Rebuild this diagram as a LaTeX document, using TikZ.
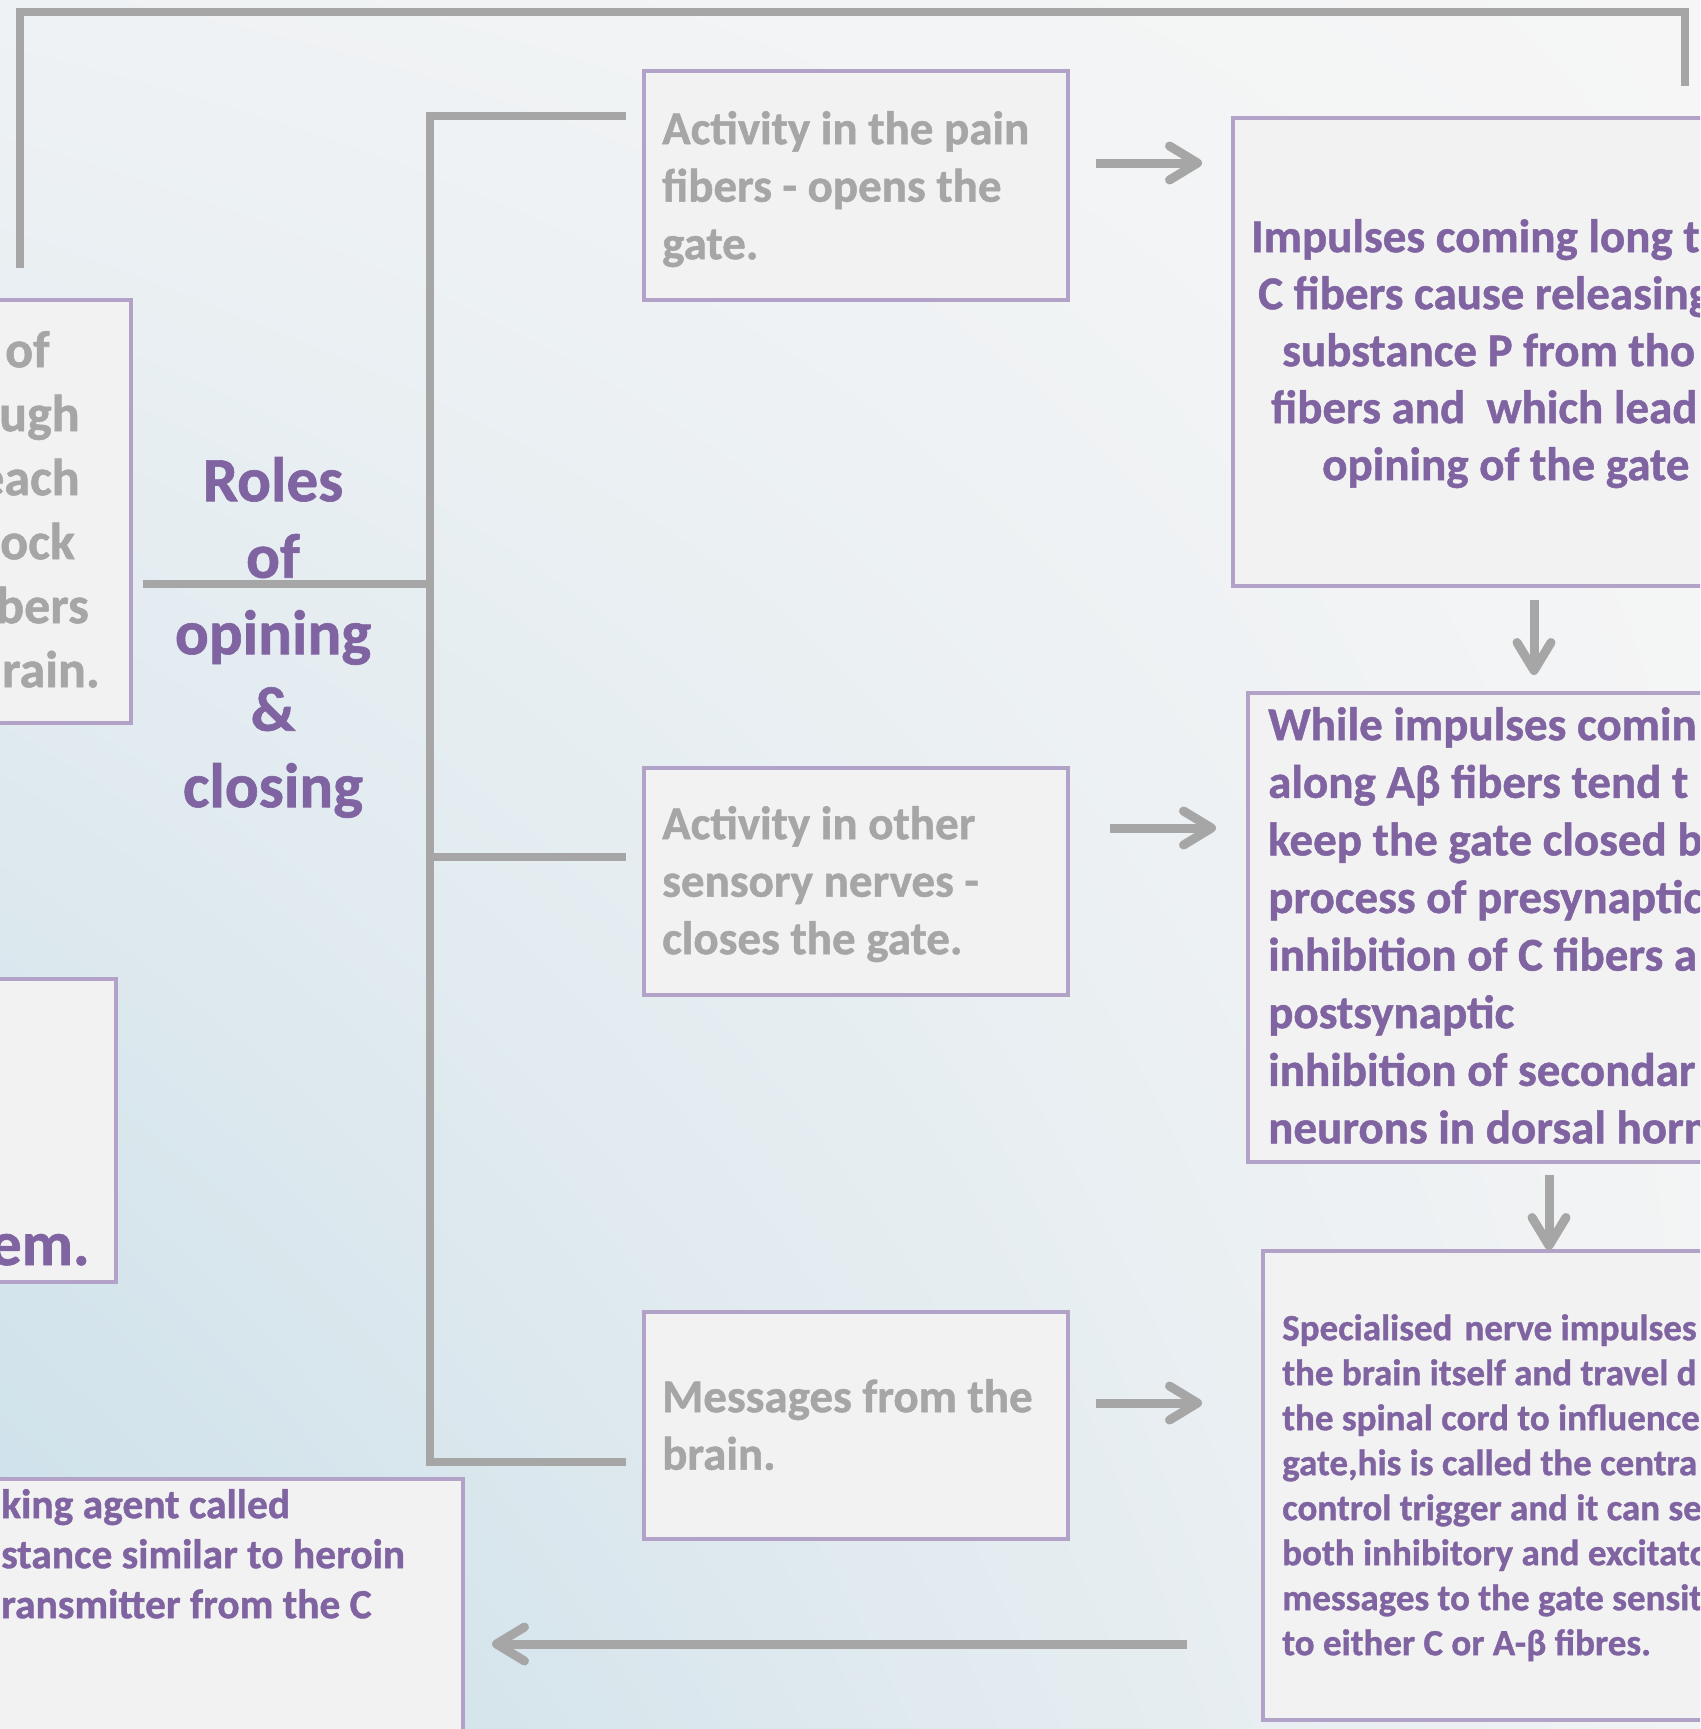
\documentclass[tikz,border=0pt]{standalone}
\usepackage{fontspec}
\setmainfont{Carlito}[BoldFeatures={FakeBold=1}]
\usetikzlibrary{arrows.meta,shadings}
\definecolor{lgrey}{HTML}{A6A6A6}
\definecolor{ptext}{HTML}{8064A2}
\definecolor{pborder}{HTML}{B3A2C7}
\definecolor{bfill}{HTML}{F2F2F2}
\definecolor{bgUL}{HTML}{EFF2F4}
\definecolor{bgUR}{HTML}{F6F6F6}
\definecolor{bgLL}{HTML}{CADFE9}
\definecolor{bgLR}{HTML}{F2F3F4}
\begin{document}
\begin{tikzpicture}[x=1pt,y=-1pt,
  box/.style={draw=pborder, line width=4pt, fill=bfill, inner sep=0pt, anchor=north west},
  txt/.style={inner sep=0pt, anchor=north west, align=left},
  greytxt/.style={txt, text=lgrey, font=\bfseries\fontsize{47}{57.5}\selectfont},
  purptxt/.style={txt, text=ptext, font=\bfseries\fontsize{47}{57.5}\selectfont},
  conn/.style={draw=lgrey, line width=8.5pt},
  arr/.style={draw=lgrey, line width=9pt, -{Straight Barb[length=28pt,width=34pt,round]}}]
\useasboundingbox (0,0) rectangle (1700,1729);
\clip (0,0) rectangle (1700,1729);
\shade[upper left=bgUL, upper right=bgUR, lower left=bgLL, lower right=bgLR] (0,0) rectangle (1700,1729);

% boxes
\node[box, minimum width=169pt, minimum height=423pt] (lb1) at (-40,298) {};
\node[box, minimum width=154pt, minimum height=303pt] (lb2) at (-40,977) {};
\node[box, minimum width=501pt, minimum height=350pt] (lb3) at (-40,1477) {};
\node[box, minimum width=424pt, minimum height=229pt] (bA) at (642,69) {};
\node[box, minimum width=424pt, minimum height=227pt] (bB) at (642,766) {};
\node[box, minimum width=424pt, minimum height=227pt] (bC) at (642,1310) {};
\node[box, minimum width=600pt, minimum height=468pt] (rb1) at (1231,116) {};
\node[box, minimum width=600pt, minimum height=469pt] (rb2) at (1246,691) {};
\node[box, minimum width=600pt, minimum height=469pt] (rb3) at (1261,1249) {};

% texts
\node[txt, text=lgrey, font=\bfseries\fontsize{52}{64}\selectfont] (tlb1) at (0,315)
  {\rule{0pt}{52pt}\hspace*{5pt}of\\\hspace*{-1pt}ugh\\\hspace*{-22pt}each\\ock\\\hspace*{-4pt}bers\\\hspace*{2pt}rain.};
\node[inner sep=0pt, anchor=base east, text=ptext, font=\bfseries\fontsize{63}{76}\selectfont] (tlb2) at (90,1265) {em.};
\node[txt, text=ptext, font=\bfseries\fontsize{41.5}{50}\selectfont] (tlb3) at (1,1476.5)
  {\rule{0pt}{41.5pt}king agent called\\stance similar to heroin\\ransmitter from the C};
\node[inner sep=0pt, anchor=north, align=center, text=ptext, font=\bfseries\fontsize{63}{76.5}\selectfont] (roles) at (273,438)
  {\rule{0pt}{63pt}Roles\\of\\opining\\\&\\closing};
\node[greytxt] (tA) at (662,97) {\rule{0pt}{47pt}Activity in the pain\\fibers - opens the\\gate.};
\node[greytxt] (tB) at (662,792) {\rule{0pt}{47pt}Activity in other\\sensory nerves -\\closes the gate.};
\node[greytxt] (tC) at (662,1365) {\rule{0pt}{47pt}Messages from the\\brain.};
\node[purptxt, font=\bfseries\fontsize{47}{57}\selectfont] (trb1) at (1251,205)
  {\rule{0pt}{47pt}Impulses coming long t\\\hspace*{7pt}C fibers cause releasing\\\hspace*{31pt}substance P from tho\\\hspace*{20pt}fibers and\ \ which lead\\\hspace*{71pt}opining of the gate};
\node[purptxt, font=\bfseries\fontsize{47}{57.6}\selectfont] (trb2) at (1268,693)
  {\rule{0pt}{47pt}While impulses comin\\along Aβ fibers tend t\\keep the gate closed b\\process of presynaptic\\inhibition of C fibers a\\postsynaptic\\inhibition of secondar\\neurons in dorsal horn};
\node[txt, text=ptext, font=\bfseries\fontsize{37}{45}\selectfont] (trb3) at (1282,1303)
  {\rule{0pt}{37pt}Specialised\hspace{12pt}nerve impulses\\the brain itself and travel d\\the spinal cord to influence\\gate,his is called the centra\\control trigger and it can se\\both inhibitory and excitato\\messages to the gate sensit\\to either C or A-β fibres.};

% connectors
\coordinate (tl) at (20,268);
\coordinate (tr) at (1685,86);
\coordinate (topy) at (0,12);
\draw[conn] (tl) -- (tl |- topy) -| (tr);

\coordinate (trunkX) at (430,0);
\coordinate (jR) at (143,584);
\coordinate (jA) at (626,116);
\coordinate (jB) at (626,857);
\coordinate (jC) at (626,1462);
\draw[conn] (jA) -- (jA -| trunkX) -- (jC -| trunkX) -- (jC);
\draw[conn] (jB -| trunkX) -- (jB);
\draw[conn] (jR) -- (jR -| trunkX);

% arrows
\coordinate (a1s) at (1096,163); \coordinate (a1e) at (1202,163);
\coordinate (a2s) at (1110,828); \coordinate (a2e) at (1216,828);
\coordinate (a3s) at (1096,1403); \coordinate (a3e) at (1202,1403);
\coordinate (a4s) at (1534,600); \coordinate (a4e) at (1534,675);
\coordinate (a5s) at (1549,1175); \coordinate (a5e) at (1549,1250);
\coordinate (a6s) at (1187,1644); \coordinate (a6e) at (492,1644);
\draw[arr] (a1s) -- (a1e);
\draw[arr] (a2s) -- (a2e);
\draw[arr] (a3s) -- (a3e);
\draw[arr] (a4s) -- (a4e);
\draw[arr] (a5s) -- (a5e);
\draw[arr] (a6s) -- (a6e);
\end{tikzpicture}
\end{document}
